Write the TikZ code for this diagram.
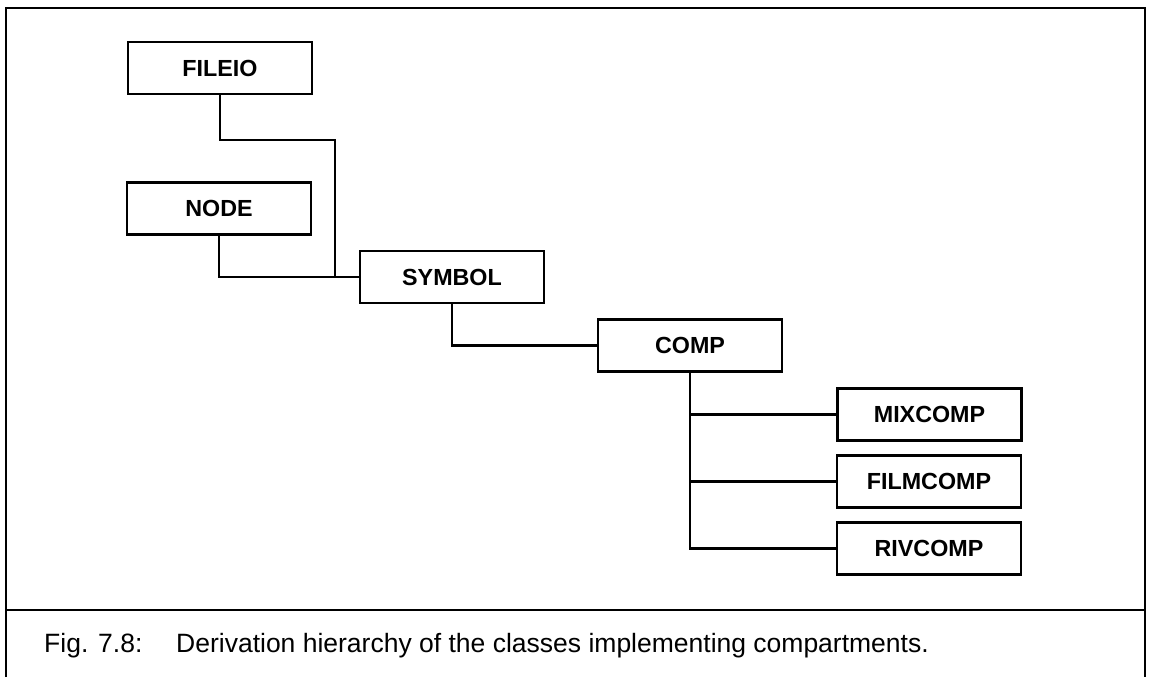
\documentclass[tikz,border=0pt]{standalone}
\usepackage{fontspec}
\setmainfont{Liberation Sans}
\begin{document}
\begin{tikzpicture}[x=1pt,y=-1pt,
  classbox/.style={draw, line width=2.8pt, minimum width=184pt, minimum height=52pt,
    inner sep=0pt, font=\bfseries\fontsize{23.3}{27}\selectfont},
  link/.style={line width=2.4pt},
  frame/.style={line width=2pt},
  captxt/.style={anchor=base west, inner sep=0pt, font=\fontsize{26.5}{31}\selectfont}]
\useasboundingbox (0,0) rectangle (1150,677);

% outer frame and caption divider
\draw[frame] (6,677) -- (6,8) -- (1145,8) -- (1145,677);
\draw[frame] (6,610) -- (1145,610);

% classes
\node[classbox] (fileio)   at (220,68)    {FILEIO};
\node[classbox] (nd)       at (219,208.5) {NODE};
\node[classbox] (symbol)   at (452,277)   {SYMBOL};
\node[classbox] (comp)     at (690,345.5) {COMP};
\node[classbox] (mixcomp)  at (929.5,414.5) {MIXCOMP};
\node[classbox] (filmcomp) at (929,481.5) {FILMCOMP};
\node[classbox] (rivcomp)  at (929,548.5) {RIVCOMP};

% derivation links
\coordinate (fj) at (335,140);
\draw[link] (fileio.south) |- (fj) |- (symbol.west);
\draw[link] (nd.south) |- (symbol.west);
\draw[link] (symbol.south) |- (comp.west);
\draw[link] (comp.south) |- (rivcomp.west);
\draw[link] (comp.south |- mixcomp.west) -- (mixcomp.west);
\draw[link] (comp.south |- filmcomp.west) -- (filmcomp.west);

% caption
\node[captxt] (fignum) at (44,652) {Fig. 7.8:};
\node[captxt] (captext) at (176,652)
  {Derivation hierarchy of the classes implementing compartments.};
\end{tikzpicture}
\end{document}
